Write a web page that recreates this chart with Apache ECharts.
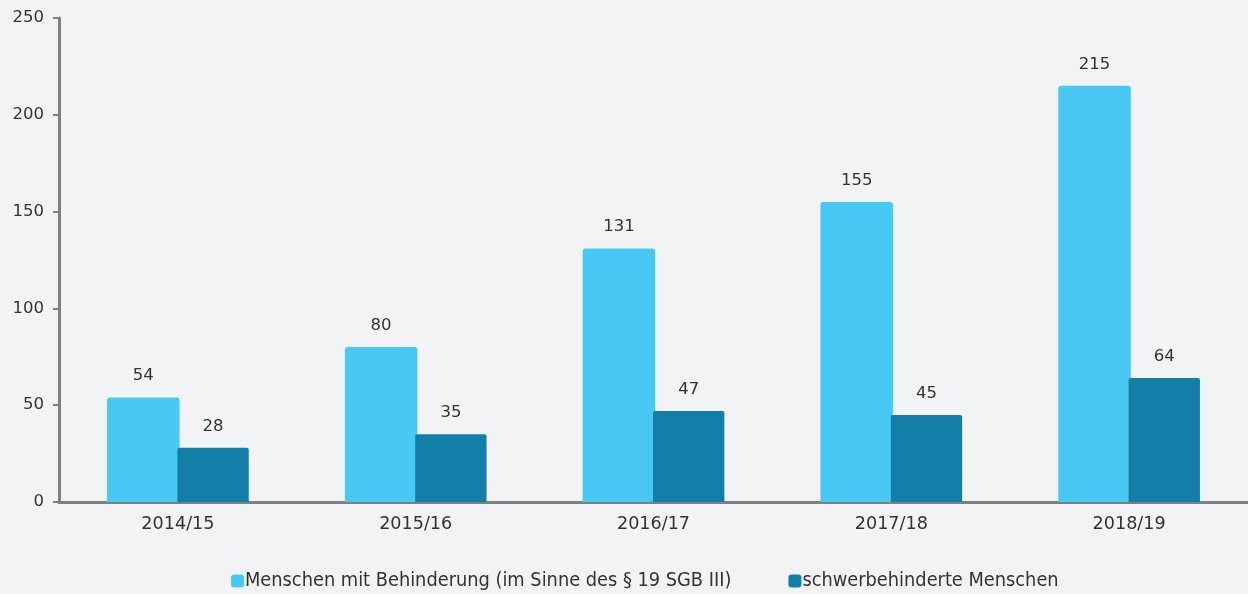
<!DOCTYPE html>
<html>
<head>
<meta charset="utf-8">
<script src="https://cdn.jsdelivr.net/npm/echarts@6/dist/echarts.min.js"></script>
<style>
  html, body { margin: 0; padding: 0; background: #f2f3f5; }
  #chart { width: 1248px; height: 594px; }
</style>
</head>
<body>
<div id="chart"></div>
<script>
// School years shown on the category axis
const years = ['2014/15', '2015/16', '2016/17', '2017/18', '2018/19'];
// People with disabilities (§ 19 SGB III)
const behinderung = [54, 80, 131, 155, 215];
// Severely disabled people
const schwerbehindert = [28, 35, 47, 45, 64];
// Value axis ticks
const yTicks = [0, 50, 100, 150, 200, 250];

const chart = echarts.init(document.getElementById('chart'));
const labelStyle = {
  show: true,
  position: 'top',
  distance: 13,
  color: '#333',
  fontFamily: 'DejaVu Sans',
  fontSize: 16.5
};
chart.setOption({
  backgroundColor: '#f2f3f5',
  animation: false,
  grid: { left: 59, right: 0, top: 18, bottom: 92, containLabel: false },
  legend: {
    top: 571,
    left: 231,
    padding: 0,
    itemWidth: 13,
    itemHeight: 13,
    itemGap: 57,
    icon: 'roundRect',
    textStyle: { fontFamily: 'DejaVu Sans Condensed', fontSize: 19.8, color: '#333', padding: [0, 0, 0, -4] },
    data: ['Menschen mit Behinderung (im Sinne des § 19 SGB III)', 'schwerbehinderte Menschen']
  },
  xAxis: {
    type: 'category',
    data: years,
    axisLine: { lineStyle: { color: '#808080', width: 3 } },
    axisTick: { show: false },
    axisLabel: { color: '#333', fontFamily: 'DejaVu Sans', fontSize: 17.6, margin: 13 }
  },
  yAxis: {
    type: 'value',
    min: yTicks[0],
    max: yTicks[yTicks.length - 1],
    interval: 50,
    axisLine: { show: true, lineStyle: { color: '#808080', width: 3 } },
    axisTick: { show: true, length: 6, lineStyle: { color: '#808080', width: 2 } },
    splitLine: { show: false },
    axisLabel: { color: '#333', fontFamily: 'DejaVu Sans', fontSize: 16.5, margin: 15 }
  },
  series: [
    {
      name: 'Menschen mit Behinderung (im Sinne des § 19 SGB III)',
      type: 'bar',
      data: behinderung,
      barWidth: '30.5%',
      barGap: '-3%',
      itemStyle: { color: '#48c9f3', borderRadius: [3, 3, 0, 0] },
      label: labelStyle
    },
    {
      name: 'schwerbehinderte Menschen',
      type: 'bar',
      data: schwerbehindert,
      barWidth: '30%',
      itemStyle: { color: '#137ea8', borderRadius: [2, 2, 0, 0] },
      label: labelStyle
    }
  ]
});
</script>
</body>
</html>
